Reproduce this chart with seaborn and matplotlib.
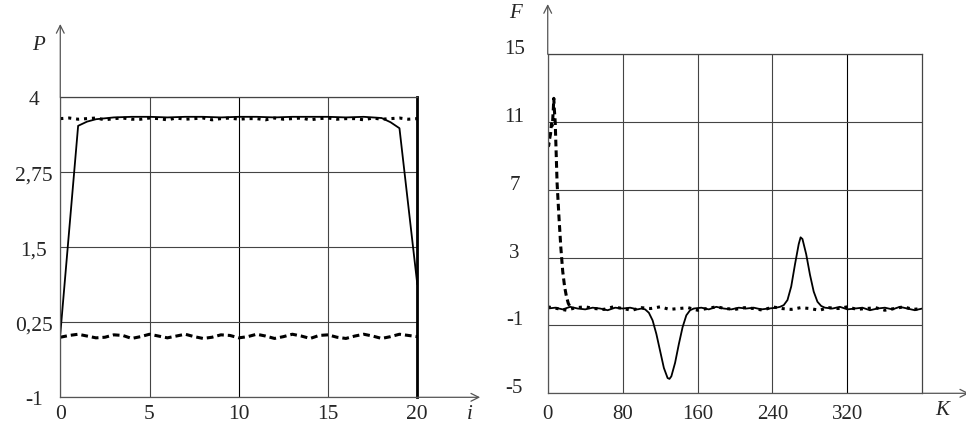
import numpy as np
import matplotlib.pyplot as plt
import matplotlib.transforms as mtransforms
import seaborn as sns

# --- left panel: P(i) ---
i_solid = [0, 1, 1.5, 2, 3, 4, 5, 6, 7, 8, 9, 10, 11, 12, 13, 14, 15, 16, 17, 18, 18.5, 19, 20]
p_solid = [0.05, 3.52, 3.59, 3.63, 3.66, 3.67, 3.67, 3.66, 3.67, 3.67, 3.66, 3.67, 3.67, 3.66,
           3.67, 3.67, 3.67, 3.66, 3.67, 3.65, 3.58, 3.48, 0.88]

i_half = np.arange(0, 20.5, 0.5)
p_dotted = [3.64, 3.65, 3.63, 3.64, 3.65, 3.62, 3.64, 3.65, 3.63, 3.63, 3.65, 3.64, 3.62, 3.65,
            3.63, 3.64, 3.65, 3.62, 3.64, 3.65, 3.63, 3.64, 3.64, 3.62, 3.65, 3.63, 3.64, 3.65,
            3.62, 3.64, 3.65, 3.63, 3.64, 3.64, 3.62, 3.65, 3.63, 3.64, 3.65, 3.63, 3.64]
p_dashed = [0.0, 0.03, 0.05, 0.02, -0.01, 0.0, 0.04, 0.03, -0.02, 0.01, 0.05, 0.02, -0.01, 0.02,
            0.05, 0.01, -0.02, 0.0, 0.04, 0.03, -0.01, 0.01, 0.05, 0.02, -0.02, 0.01, 0.05, 0.02,
            -0.02, 0.03, 0.04, 0.0, -0.02, 0.02, 0.05, 0.02, -0.02, 0.01, 0.05, 0.03, 0.01]

p_ticks = [-1, 0.25, 1.5, 2.75, 4]
p_labels = ["-1", "0,25", "1,5", "2,75", "4"]
i_ticks = [0, 5, 10, 15, 20]

# --- right panel: F(K) ---
k_solid = [0, 8, 16, 24, 32, 40, 48, 56, 64, 72, 80, 88, 96,
           100, 104, 108, 112, 116, 120, 124, 128, 130, 132, 136, 140, 144, 148, 152, 156,
           164, 172, 180, 188, 196, 204, 212, 220, 228, 236, 244,
           248, 252, 256, 260, 264, 268, 270, 272, 276, 280, 284, 288, 292, 296,
           304, 312, 320, 328, 336, 344, 352, 360, 368, 376, 384, 392, 400]
f_solid = [0.0, 0.05, -0.05, 0.1, 0.0, -0.05, 0.05, 0.0, -0.1, 0.05, 0.0, 0.05, -0.05,
           0.0, -0.05, -0.25, -0.7, -1.5, -2.5, -3.5, -4.1, -4.15, -4.0, -3.2, -2.1, -1.1, -0.4, -0.1, 0.0,
           0.05, -0.05, 0.1, 0.0, -0.05, 0.05, 0.0, 0.05, -0.05, 0.0, 0.05,
           0.1, 0.2, 0.5, 1.3, 2.6, 3.8, 4.2, 4.1, 3.2, 2.0, 1.0, 0.4, 0.15, 0.05,
           0.0, 0.1, -0.05, 0.0, 0.05, -0.1, 0.0, 0.05, -0.05, 0.1, 0.0, -0.1, 0.0]

k_dashed = [0, 1, 2, 3, 4, 5, 6, 6.5, 7, 8, 10, 12, 14, 16, 18, 20, 22, 24, 26]
f_dashed = [9.8, 9.6, 10.0, 10.3, 10.9, 10.8, 11.8, 12.4, 11.8, 11.0, 7.4, 5.4, 3.6, 2.2, 1.3,
            0.7, 0.3, 0.1, 0.0]

k_dotted = list(range(0, 401, 10))
f_dotted = [0.1, 0.0, -0.1, 0.05, 0.1, 0.0, -0.05, 0.1, 0.0, -0.1,
            0.05, 0.0, 0.1, -0.05, 0.0, 0.05, -0.1, 0.0, 0.1, 0.0,
            -0.05, 0.05, 0.0, -0.1, 0.1, 0.0, -0.05, 0.05, 0.0, -0.1,
            0.05, 0.0, 0.1, -0.05, 0.0, 0.05, -0.1, 0.0, 0.1, -0.05, 0.0]

f_ticks = [-5, -1, 3, 7, 11, 15]
k_ticks = [0, 80, 160, 240, 320]

sns.set_style("white")
plt.rcParams['font.family'] = ['Liberation Serif', 'DejaVu Serif']

fig = plt.figure(figsize=(9.66, 4.27), dpi=100)
ax1 = fig.add_axes([0.0624, 0.0672, 0.3696, 0.7033])
ax2 = fig.add_axes([0.567, 0.0766, 0.3878, 0.794])

grid_col = "#444444"
axis_col = "#555555"


def frame(ax, xarrow, yarrow):
    for s in ["top", "right"]:
        ax.spines[s].set_color(grid_col)
        ax.spines[s].set_linewidth(0.9)
    for s in ["left", "bottom"]:
        ax.spines[s].set_color(axis_col)
        ax.spines[s].set_linewidth(0.9)
    ax.grid(True, color=grid_col, linewidth=0.8)
    ax.tick_params(length=0)
    ax.annotate("", xy=(0, yarrow), xytext=(0, 1.0), xycoords="axes fraction",
                arrowprops=dict(arrowstyle="->", color=axis_col, lw=0.9,
                                shrinkA=0, shrinkB=0, mutation_scale=14),
                annotation_clip=False)
    ax.annotate("", xy=(xarrow, 0), xytext=(1.0, 0), xycoords="axes fraction",
                arrowprops=dict(arrowstyle="->", color=axis_col, lw=0.9,
                                shrinkA=0, shrinkB=0, mutation_scale=14),
                annotation_clip=False)


# left
sns.lineplot(x=i_solid, y=p_solid, ax=ax1, color="black", linewidth=1.3)
sns.lineplot(x=i_half, y=p_dotted, ax=ax1, color="black", linewidth=2.2,
             linestyle=(0, (1, 1.6)))
sns.lineplot(x=i_half, y=p_dashed, ax=ax1, color="black", linewidth=2.2,
             linestyle=(0, (2.2, 1.3)))
ax1.set_xlim(0, 20)
ax1.set_ylim(-1, 4)
ax1.set_xticks(i_ticks)
ax1.set_xticklabels([str(t) for t in i_ticks], fontsize=15.5)
ax1.set_yticks(p_ticks)
ax1.set_yticklabels(p_labels, fontsize=15.5, ha="center")
ax1.tick_params(axis="y", pad=19)
ax1.tick_params(axis="x", pad=5)
frame(ax1, 1.176, 1.243)
ax1.spines["right"].set_color("black")
ax1.spines["right"].set_linewidth(2.0)
for gl in ax1.get_xgridlines():
    if abs(gl.get_xdata()[0] - 10) < 1e-6:
        gl.set_color("black")

# right
sns.lineplot(x=k_solid, y=f_solid, ax=ax2, color="black", linewidth=1.3)
sns.lineplot(x=k_dotted, y=f_dotted, ax=ax2, color="black", linewidth=2.2,
             linestyle=(0, (1, 1.6)))
sns.lineplot(x=k_dashed, y=f_dashed, ax=ax2, color="black", linewidth=2.2,
             linestyle=(0, (2.2, 1.3)))
ax2.set_xlim(0, 400)
ax2.set_ylim(-5, 15)
ax2.set_xticks(k_ticks)
ax2.set_xticklabels([str(t) for t in k_ticks], fontsize=15)
ax2.set_yticks(f_ticks)
ax2.set_yticklabels([str(t) for t in f_ticks], fontsize=15, ha="center")
ax2.tick_params(axis="y", pad=24)
ax2.tick_params(axis="x", pad=8)
frame(ax2, 1.125, 1.148)
for gl in ax2.get_xgridlines():
    if abs(gl.get_xdata()[0] - 320) < 1e-6:
        gl.set_color("black")
# y labels of right panel sit a bit above their lines
shift = mtransforms.ScaledTranslation(0, 0.08, fig.dpi_scale_trans)
for lab in ax2.get_yticklabels():
    lab.set_transform(lab.get_transform() + shift)

# axis letters
fig.text(38 / 966, 1 - 45 / 427, "P", fontsize=15, style="italic", ha="center", va="center")
fig.text(470 / 966, 1 - 415 / 427, "i", fontsize=15, style="italic", ha="center", va="center")
fig.text(515 / 966, 1 - 13 / 427, "F", fontsize=15, style="italic", ha="center", va="center")
fig.text(942 / 966, 1 - 411 / 427, "K", fontsize=15, style="italic", ha="center", va="center")

fig.savefig("out.png", dpi=100)
plt.close()
